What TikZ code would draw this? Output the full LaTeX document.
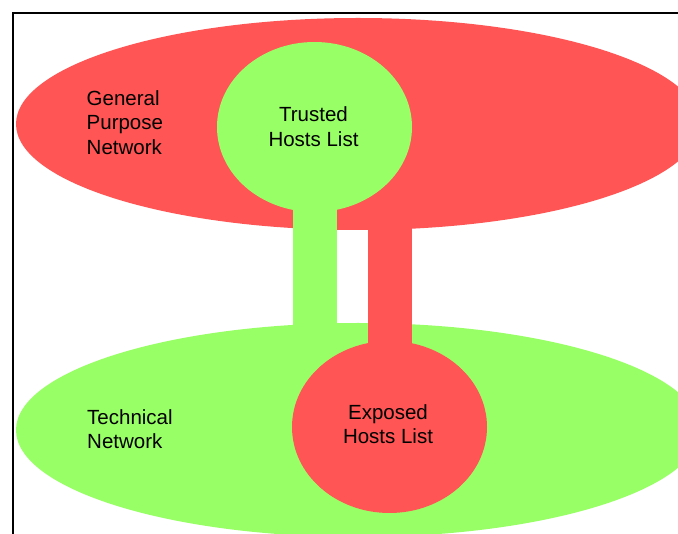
\documentclass[tikz,border=0pt]{standalone}
\usepackage{fontspec}
\setmainfont{Liberation Sans}
\usetikzlibrary{shapes.geometric}
\definecolor{netred}{RGB}{255,85,85}
\definecolor{netgreen}{RGB}{153,255,102}
\pgfdeclarelayer{zones}
\pgfdeclarelayer{links}
\pgfsetlayers{zones,links,main}
\begin{document}
\begin{tikzpicture}[x=1pt,y=-1pt,
  zone/.style={ellipse, draw=none, inner sep=0pt, minimum width=684pt, minimum height=212pt},
  hosts/.style={ellipse, draw=none, inner sep=0pt, minimum width=195pt, minimum height=171pt},
  link/.style={line width=44pt},
  lbl/.style={inner sep=0pt, font=\fontsize{20.5}{24.5}\selectfont},
  frame/.style={line width=1.6pt, black}
]
\useasboundingbox (0,0) rectangle (678,534);

% the two networks
\begin{pgfonlayer}{zones}
  \node[zone, fill=netred] (gpn) at (358,124) {};
  \node[zone, fill=netgreen, minimum height=214pt] (tech) at (358,430) {};
\end{pgfonlayer}

% host lists
\node[hosts, fill=netgreen, minimum height=170pt] (trusted) at (314.5,127) {};
\node[hosts, fill=netred, minimum height=172pt] (exposed) at (389.5,427) {};

% links between each list and the other network
\begin{pgfonlayer}{links}
  \draw[link, netgreen] (trusted.center) -- (trusted.center |- tech.center);
  \draw[link, netred] (exposed.center) -- (exposed.center |- gpn.center);
\end{pgfonlayer}

% labels (base anchor sits on the last line)
\node[lbl, align=left, anchor=base west] (gpnlabel) at (86.5,154.5) {General\\Purpose\\Network};
\node[lbl, align=center, anchor=base] (trustedlabel) at (313.5,146.5) {Trusted\\Hosts List};
\node[lbl, align=left, anchor=base west] (techlabel) at (87,449) {Technical\\Network};
\node[lbl, align=center, anchor=base] (exposedlabel) at (388,444) {Exposed\\Hosts List};

% page frame
\coordinate (frameTR) at (678,13.3);
\coordinate (frameTL) at (13,13.3);
\coordinate (frameBL) at (13,534);
\draw[frame] (frameTR) -- (frameTL) -- (frameBL);
\end{tikzpicture}
\end{document}
